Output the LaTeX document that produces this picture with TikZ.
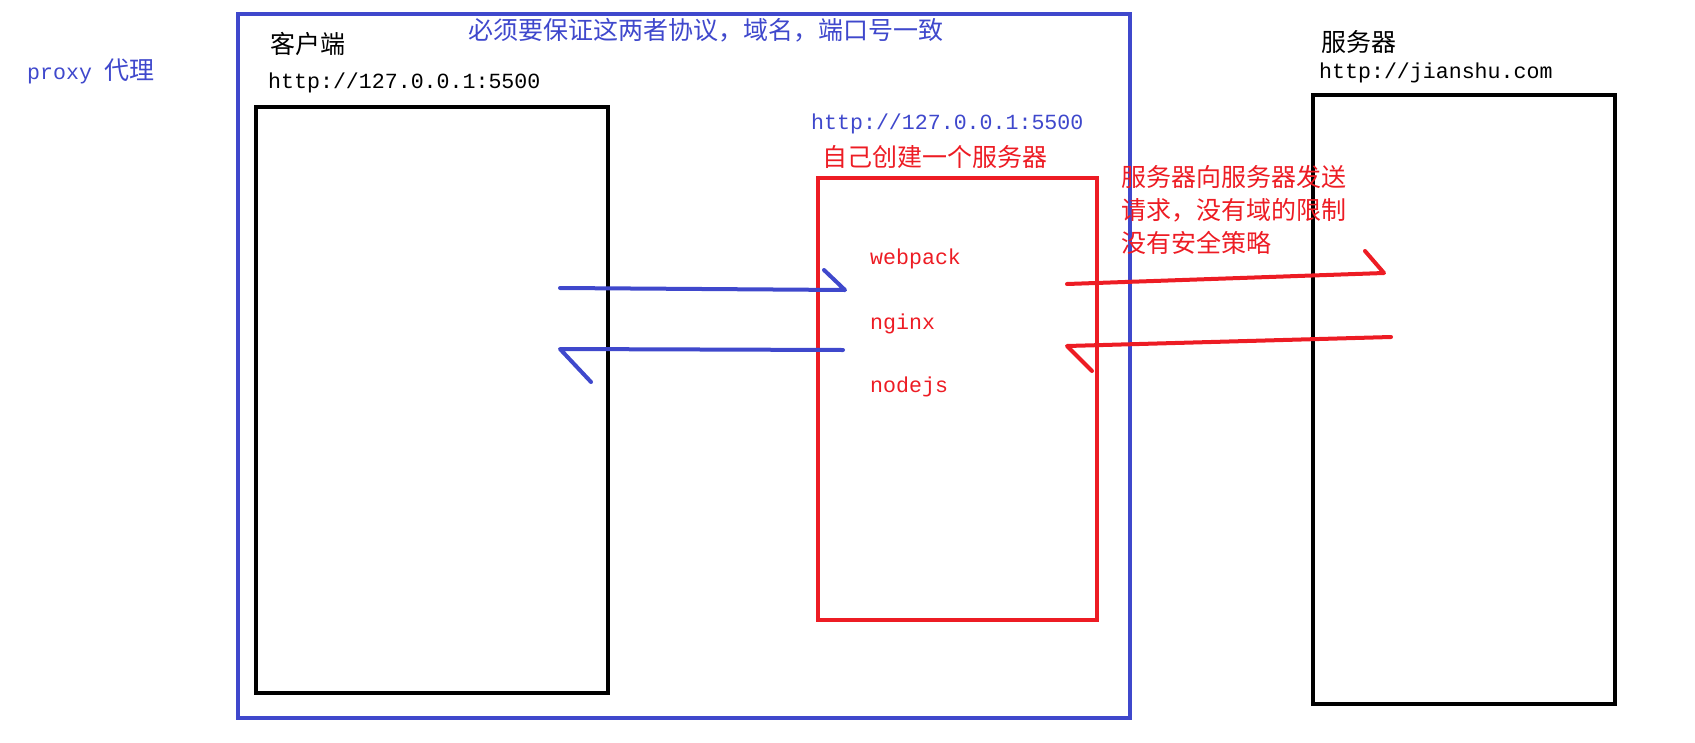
\documentclass[tikz,border=0pt]{standalone}
\usepackage{fontspec}
\setmainfont{Liberation Mono}
\newfontfamily\zhfont{Noto Sans CJK SC}
\definecolor{paintblue}{RGB}{63,72,204}
\definecolor{paintred}{RGB}{237,28,36}
\tikzstyle{box} = [draw, rectangle, line width=4pt, inner sep=0pt]
\tikzstyle{txt} = [anchor=west, inner sep=0pt, font=\fontsize{21.6}{26}\selectfont]
\tikzstyle{zhtxt} = [anchor=west, inner sep=0pt, font=\zhfont\fontsize{25}{30}\selectfont]
\tikzstyle{hand} = [draw, line width=4pt, line cap=round, line join=round]

\begin{document}
\begin{tikzpicture}[x=1pt, y=-1pt]
	\useasboundingbox (0,0) rectangle (1695,742);

	% boxes
	\node [box, draw=paintblue, minimum width=892pt, minimum height=704pt] (proxy) at (684,366) {};
	\node [box, minimum width=352pt, minimum height=586pt] (client) at (432,400) {};
	\node [box, draw=paintred, minimum width=279pt, minimum height=442pt] (own) at (957.5,399) {};
	\node [box, minimum width=302pt, minimum height=609pt] (server) at (1464,399.5) {};

	% labels
	\node [txt, text=paintblue] (proxylabel) at (27,71) {proxy {\zhfont\fontsize{25}{30}\selectfont 代理}};
	\node [zhtxt] (clientlabel) at (270,44) {客户端};
	\node [txt] (clienturl) at (268,83) {http://127.0.0.1:5500};
	\node [zhtxt, text=paintblue] (rule) at (468,30) {必须要保证这两者协议，域名，端口号一致};
	\node [txt, text=paintblue] (ownurl) at (811,124) {http://127.0.0.1:5500};
	\node [zhtxt, text=paintred] (ownlabel) at (822,157) {自己创建一个服务器};
	\node [txt, text=paintred] (webpack) at (870,259) {webpack};
	\node [txt, text=paintred] (nginx) at (870,324) {nginx};
	\node [txt, text=paintred] (nodejs) at (870,387) {nodejs};
	\node [zhtxt, text=paintred] (note1) at (1121,177) {服务器向服务器发送};
	\node [zhtxt, text=paintred] (note2) at (1121,210) {请求，没有域的限制};
	\node [zhtxt, text=paintred] (note3) at (1121,243) {没有安全策略};
	\node [zhtxt] (serverlabel) at (1321,42) {服务器};
	\node [txt] (serverurl) at (1319,73) {http://jianshu.com};

	% arrow ends
	\coordinate (reqfrom) at (560,288);
	\coordinate (reqto) at (845,290);
	\coordinate (resfrom) at (843,350);
	\coordinate (resto) at (560,349);
	\coordinate (fwdfrom) at (1067,284);
	\coordinate (fwdto) at (1384,273);
	\coordinate (backfrom) at (1391,337);
	\coordinate (backto) at (1067,346);

	\path [hand, paintblue] (reqfrom) -- (reqto) -- ++(-21,-20);
	\path [hand, paintblue] (resfrom) -- (resto) -- ++(31,33);
	\path [hand, paintred] (fwdfrom) -- (fwdto) -- ++(-19,-22);
	\path [hand, paintred] (backfrom) -- (backto) -- ++(25,25);
\end{tikzpicture}
\end{document}
